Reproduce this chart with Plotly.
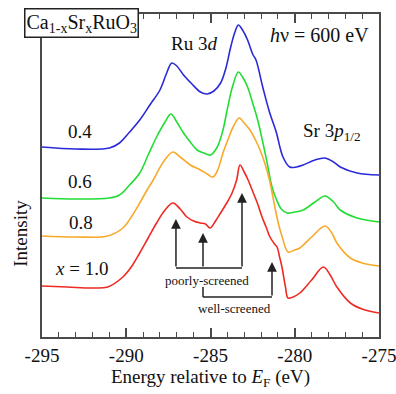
import plotly.graph_objects as go

# ---- data (energy in eV, intensity in arbitrary units incl. vertical offsets) ----
E_04 = [-295, -293, -291.0, -290.4, -289.8, -289.2, -288.6, -288.0, -287.6, -287.3, -287.0, -286.6,
        -286.1, -285.6, -285.2, -284.8, -284.4, -284.1, -283.8, -283.55, -283.35, -283.1, -282.8,
        -282.5, -282.3, -281.9, -281.5, -281.1, -280.7, -280.3, -279.9, -279.5, -278.8, -278.2,
        -277.7, -277.3, -276.3, -275]
I_04 = [190, 188, 189, 194, 205, 217, 232, 247, 264, 274, 271, 262,
        253, 245, 243, 246, 254, 268, 290, 305, 312, 307, 297,
        283, 277, 250, 225, 205, 180, 170, 170, 172, 177, 179,
        175, 170, 164, 162]

E_06 = [-295, -293, -291.0, -290.4, -289.8, -289.2, -288.7, -288.2, -287.7, -287.35, -287.0, -286.6,
        -286.2, -285.8, -285.4, -285.0, -284.6, -284.26, -284.0, -283.7, -283.35, -283.1, -282.8,
        -282.5, -282.2, -281.9, -281.65, -281.35, -281.1, -280.8, -280.45, -280.0, -279.5, -278.8,
        -278.2, -277.7, -277.3, -276.3, -275]
I_06 = [139, 138, 139, 142, 152, 164, 182, 200, 215, 223, 215, 204,
        195, 187, 184, 182, 190, 207, 228, 250, 265, 260, 250,
        234, 217, 195, 175, 150, 138, 128, 124, 125, 127, 135,
        141, 135, 127, 119, 115]

E_08 = [-295, -293, -291.1, -290.2, -289.7, -289.2, -288.8, -288.4, -287.8, -287.23, -286.8, -286.2,
        -285.6, -285.2, -284.85, -284.55, -284.26, -283.95, -283.66, -283.3, -283.0, -282.66, -282.3,
        -282.06, -281.8, -281.5, -281.17, -280.95, -280.76, -280.4, -280.0, -279.7, -279.0, -278.2,
        -277.8, -277.5, -276.7, -276.0, -275]
I_08 = [101, 100, 101, 109, 120, 134, 146, 157, 175, 185, 180, 172,
        167, 163, 160, 168, 184, 198, 210, 219, 214, 207, 196,
        187, 175, 157, 129, 112, 101, 85, 87, 89, 100, 111,
        104, 94, 79, 74, 71]

E_10 = [-295, -293.5, -292, -291.1, -290.2, -289.7, -289.2, -288.7, -288.2, -287.7, -287.23, -286.8,
        -286.4, -286.0, -285.6, -285.3, -285.03, -284.7, -284.4, -284.0, -283.72, -283.45, -283.25,
        -283.0, -282.77, -282.48, -282.2, -281.94, -281.7, -281.47, -281.2, -281.05, -280.9, -280.76,
        -280.55, -280.4, -280.1, -279.7, -279.0, -278.3, -277.9, -277.5, -276.7, -276.0, -275]
I_10 = [51, 50, 49, 50, 60, 70, 84, 99, 114, 127, 134, 128,
        120, 116, 114, 113, 109, 116, 124, 135, 144, 157, 172,
        165, 157, 145, 133, 120, 110, 100, 93, 90, 80, 70,
        50, 39, 40, 44, 57, 70, 62, 50, 34, 28, 24]

series = [
    ("0.4", E_04, I_04, "#2a2ad8"),
    ("0.6", E_06, I_06, "#22dd33"),
    ("0.8", E_08, I_08, "#f8a92a"),
    ("1.0", E_10, I_10, "#ee2a22"),
]

serif = "Liberation Serif, Times New Roman, Times, serif"
axis_col = "#4a4a4a"

fig = go.Figure()
for name, e, i, c in series:
    fig.add_trace(go.Scatter(x=e, y=i, mode="lines", name=name,
                             line=dict(color=c, width=1.6, shape="spline", smoothing=1.0),
                             showlegend=False, hoverinfo="skip"))

fig.update_layout(
    width=396, height=394,
    margin=dict(l=42, r=17, t=14, b=57, autoexpand=False),
    paper_bgcolor="white", plot_bgcolor="white",
    font=dict(family=serif, size=19, color="#111111"),
    xaxis=dict(range=[-295, -275], tickvals=[-295, -290, -285, -280, -275],
               ticktext=["-295", "-290", "-285", "-280", "-275"],
               ticks="inside", ticklen=9, tickwidth=1.5, tickcolor=axis_col,
               minor=dict(dtick=1, ticks="inside", ticklen=5, tickwidth=1.2, tickcolor=axis_col),
               showline=True, linecolor=axis_col, linewidth=2, mirror="ticks",
               showgrid=False, zeroline=False, automargin=False,
               ticklabeloverflow="allow",
               tickfont=dict(family=serif, size=19),
               title=dict(text="Energy relative to <i>E</i><sub>F</sub> (eV)",
                          font=dict(family=serif, size=19), standoff=2)),
    yaxis=dict(range=[0, 323], showticklabels=False, ticks="", showgrid=False,
               zeroline=False, showline=True, linecolor=axis_col, linewidth=2, mirror=True,
               automargin=False),
)

ann = []
def txt(x, y, t, size=19, **kw):
    ann.append(dict(x=x, y=y, xref="x", yref="y", text=t, showarrow=False,
                    font=dict(family=serif, size=size, color="#111111"), **kw))

txt(-285.98, 294, "Ru 3<i>d</i>")
txt(-278.56, 302, "<i>h</i>ν = 600 eV", size=20)
txt(-277.79, 205, "Sr 3<i>p</i><sub>1/2</sub>")
txt(-292.77, 206, "0.4")
txt(-292.72, 156, "0.6")
txt(-292.66, 115, "0.8")
txt(-292.66, 69, "<i>x</i> = 1.0")
txt(-285.21, 57, "poorly-screened", size=13)
txt(-283.55, 29, "well-screened", size=13)

# title box
ann.append(dict(x=0.117, y=0.973, xref="paper", yref="paper", showarrow=False,
                text="Ca<sub>1-x</sub>Sr<sub>x</sub>RuO<sub>3</sub>",
                font=dict(family=serif, size=20, color="#111111"),
                bgcolor="white", bordercolor="#222222", borderwidth=1.5, borderpad=1,
                xanchor="center", yanchor="middle"))

# y-axis label
ann.append(dict(x=-0.062, y=0.32, xref="paper", yref="paper", showarrow=False,
                text="Intensity", textangle=-90,
                font=dict(family=serif, size=19, color="#111111"),
                xanchor="center", yanchor="middle"))

# arrows
arrow_col = "#222222"
def arrow(x, y0, y1):
    ann.append(dict(x=x, y=y1, ax=x, ay=y0, xref="x", yref="y", axref="x", ayref="y",
                    text="", showarrow=True, arrowhead=2, arrowsize=1.3, arrowwidth=1.5,
                    arrowcolor=arrow_col))

arrow(-287.05, 69, 118)
arrow(-285.445, 69, 104)
arrow(-283.13, 69, 144)
arrow(-281.35, 40, 75)

fig.update_layout(annotations=ann)

shapes = [
    dict(type="line", xref="x", yref="y", x0=-287.05, x1=-283.13, y0=69, y1=69,
         line=dict(color=arrow_col, width=1.5)),
    dict(type="line", xref="x", yref="y", x0=-285.445, x1=-285.445, y0=50, y1=40,
         line=dict(color=arrow_col, width=1.5)),
    dict(type="line", xref="x", yref="y", x0=-285.445, x1=-281.35, y0=40, y1=40,
         line=dict(color=arrow_col, width=1.5)),
]
fig.update_layout(shapes=shapes)

fig.write_html("out.html")
